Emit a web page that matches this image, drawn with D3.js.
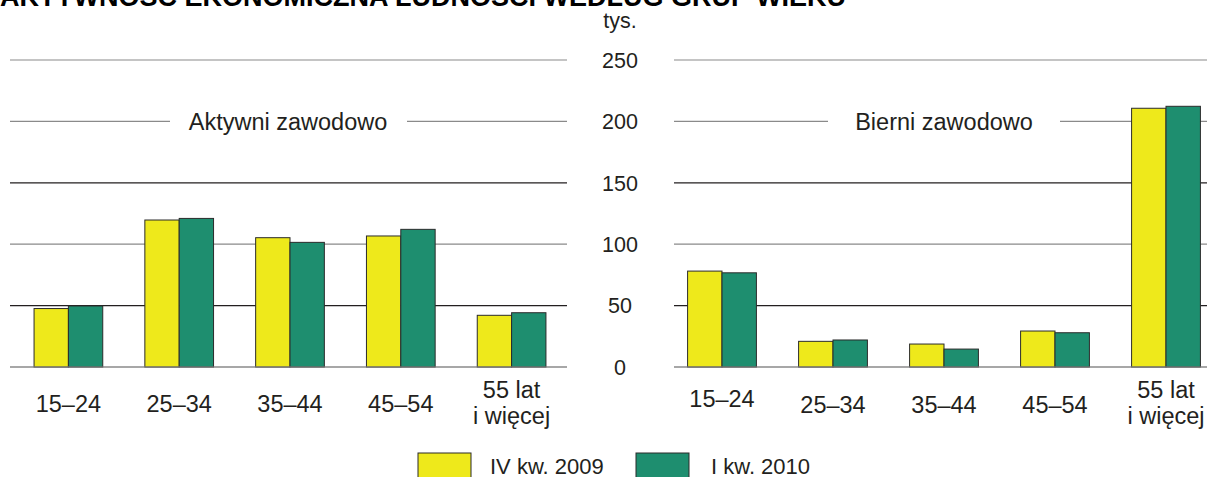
<!DOCTYPE html>
<html><head><meta charset="utf-8">
<script src="https://cdn.jsdelivr.net/npm/d3@7"></script>
<style>body{margin:0;background:#fff}svg{display:block}text{font-family:"Liberation Sans",Arial,sans-serif;fill:#231f20}</style>
</head><body>
<script>
const title = "AKTYWNOŚĆ EKONOMICZNA LUDNOŚCI WEDŁUG GRUP WIEKU";
const categories = ["15–24","25–34","35–44","45–54","55 lat\ni więcej"];
const seriesNames = ["IV kw. 2009","I kw. 2010"];
const activeQ4_2009 = [47.6,119.7,105.3,106.7,42.1];
const activeQ1_2010 = [49.7,121.0,101.5,112.1,44.2];
const inactiveQ4_2009 = [78.1,20.9,18.7,29.3,210.7];
const inactiveQ1_2010 = [76.7,22.0,14.6,27.9,212.3];
const yTicks = [0,50,100,150,200,250];
const unitLabel = "tys.";
const panelTitles = ["Aktywni zawodowo","Bierni zawodowo"];
const colors = ["#eee91b","#1e8e6f"];

const W=1207,H=477;
const svg=d3.select("body").append("svg").attr("width",W).attr("height",H);
const y=d3.scaleLinear().domain([0,250]).range([367,60]);

svg.append("text").attr("x",0).attr("y",6).attr("font-size",27).attr("font-weight","bold").style("fill","#000").text(title);

const panels=[
  {data:[activeQ4_2009,activeQ1_2010],range:[13,567],grid:[10,567],title:panelTitles[0],gap:[170,407],tcx:288,
   labelY:[404,404,404,404,null]},
  {data:[inactiveQ4_2009,inactiveQ1_2010],range:[666.5,1221.5],grid:[674,1207],title:panelTitles[1],gap:[828,1060],tcx:944,
   labelY:[399,405,405,405,null]}
];
const gridColor=v=>(v===50||v===150)?"#231f20":"#8a8a8a";
const fs=23.5;

panels.forEach(p=>{
  const g=svg.append("g");
  g.selectAll("line.grid").data(yTicks).join("line").attr("class","grid")
    .attr("x1",p.grid[0]).attr("x2",p.grid[1]).attr("y1",d=>y(d)).attr("y2",d=>y(d))
    .attr("stroke",gridColor).attr("stroke-width",1.2);
  g.append("rect").attr("x",p.gap[0]).attr("width",p.gap[1]-p.gap[0]).attr("y",y(200)-4).attr("height",8).attr("fill","#fff");
  g.append("text").attr("x",p.tcx).attr("y",y(200)).attr("dy","0.36em").attr("text-anchor","middle").attr("font-size",fs).text(p.title);
  const x=d3.scaleBand().domain(categories).range(p.range).paddingInner(0.38).paddingOuter(0.19);
  const xs=d3.scaleBand().domain([0,1]).range([0,x.bandwidth()]);
  p.data.forEach((vals,si)=>{
    g.selectAll("rect.s"+si).data(vals).join("rect").attr("class","s"+si)
      .attr("x",(d,i)=>x(categories[i])+xs(si)).attr("width",xs.bandwidth())
      .attr("y",d=>y(d)).attr("height",d=>y(0)-y(d))
      .attr("fill",colors[si]).attr("stroke","#2b2b2b").attr("stroke-width",1);
  });
  g.append("line").attr("x1",p.grid[0]).attr("x2",p.grid[1]).attr("y1",y(0)).attr("y2",y(0)).attr("stroke","#8a8a8a").attr("stroke-width",1.2);
  categories.forEach((c,i)=>{
    const cx=x(c)+x.bandwidth()/2;
    const parts=c.split("\n");
    if(parts.length===1){
      g.append("text").attr("x",cx).attr("y",p.labelY[i]).attr("dy","0.36em").attr("text-anchor","middle").attr("font-size",fs).text(c);
    } else {
      g.append("text").attr("x",cx).attr("y",390).attr("dy","0.36em").attr("text-anchor","middle").attr("font-size",fs).text(parts[0]);
      g.append("text").attr("x",cx).attr("y",416).attr("dy","0.36em").attr("text-anchor","middle").attr("font-size",fs).text(parts[1]);
    }
  });
});

svg.append("g").selectAll("text").data(yTicks).join("text")
  .attr("x",620).attr("y",d=>y(d)).attr("dy","0.36em").attr("text-anchor","middle").attr("font-size",21.5).text(d=>d);
svg.append("text").attr("x",620).attr("y",20).attr("dy","0.36em").attr("text-anchor","middle").attr("font-size",21.5).text(unitLabel);

const leg=[{x:418,tx:490},{x:636,tx:711}];
seriesNames.forEach((n,i)=>{
  svg.append("rect").attr("x",leg[i].x).attr("y",453).attr("width",53).attr("height",30).attr("fill",colors[i]).attr("stroke","#2b2b2b").attr("stroke-width",1);
  svg.append("text").attr("x",leg[i].tx).attr("y",466).attr("dy","0.36em").attr("font-size",22).text(n);
});
</script>
</body></html>
